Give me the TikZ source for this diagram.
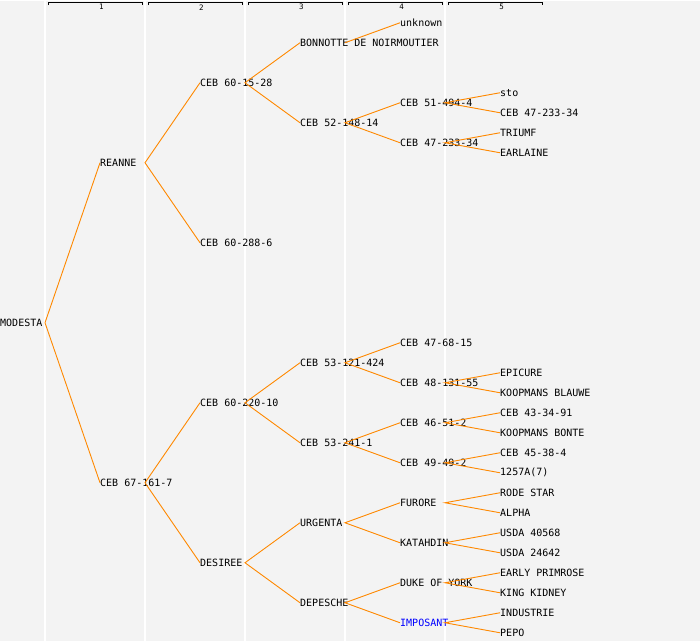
\documentclass[tikz,border=0pt]{standalone}
\usepackage{fontspec}
\setmonofont{DejaVu Sans Mono}
\usepackage{xcolor}
\definecolor{bgcol}{RGB}{243,243,243}
\definecolor{edgecol}{RGB}{255,136,0}
\definecolor{impcol}{RGB}{0,0,255}
\begin{document}
\begin{tikzpicture}[x=1pt,y=-1pt,
	nm/.style={anchor=west,inner sep=0pt,font=\fontsize{10}{10}\selectfont\ttfamily},
	edge/.style={draw=edgecol,line width=0.9pt},
	colline/.style={draw=white,line width=1.5pt},
	gen/.style={draw=black,line width=0.9pt},
	gennum/.style={inner sep=0pt,font=\fontsize{7.5}{7.5}\selectfont\ttfamily}]
	\fill[bgcol] (0,0) rectangle (700,640);
	\coordinate (col0) at (45,0);
	\coordinate (col1) at (145,0);
	\coordinate (col2) at (245,0);
	\coordinate (col3) at (345,0);
	\coordinate (col4) at (445,0);
	\foreach \c in {col0,col1,col2,col3,col4}
		\draw[colline] (\c) -- ++(0,640);
	% generation brackets
	\foreach \i in {1,...,5} {
		\pgfmathsetmacro{\xa}{100*\i-52}
		\pgfmathsetmacro{\xb}{100*\i+42}
		\draw[gen] (\xa,4.5) -- (\xa,1.5) -- (\xb,1.5) -- (\xb,4.5);
		\node[gennum] (g\i) at (100*\i+1.5,6.5) {\i};
	}
	\node[nm] (modesta) at (0,322) {MODESTA};
	\node[nm] (reanne) at (100,162) {REANNE};
	\node[nm] (ceb67) at (100,482) {CEB 67-161-7};
	\node[nm] (ceb6015) at (200,82) {CEB 60-15-28};
	\node[nm] (ceb60288) at (200,242) {CEB 60-288-6};
	\node[nm] (ceb60220) at (200,402) {CEB 60-220-10};
	\node[nm] (desiree) at (200,562) {DESIREE};
	\node[nm] (bonnotte) at (300,42) {BONNOTTE DE NOIRMOUTIER};
	\node[nm] (ceb52148) at (300,122) {CEB 52-148-14};
	\node[nm] (ceb53121) at (300,362) {CEB 53-121-424};
	\node[nm] (ceb53241) at (300,442) {CEB 53-241-1};
	\node[nm] (urgenta) at (300,522) {URGENTA};
	\node[nm] (depesche) at (300,602) {DEPESCHE};
	\node[nm] (unknown) at (400,22) {unknown};
	\node[nm] (ceb51494) at (400,102) {CEB 51-494-4};
	\node[nm] (ceb47233a) at (400,142) {CEB 47-233-34};
	\node[nm] (ceb4768) at (400,342) {CEB 47-68-15};
	\node[nm] (ceb48131) at (400,382) {CEB 48-131-55};
	\node[nm] (ceb4651) at (400,422) {CEB 46-51-2};
	\node[nm] (ceb4949) at (400,462) {CEB 49-49-2};
	\node[nm] (furore) at (400,502) {FURORE};
	\node[nm] (katahdin) at (400,542) {KATAHDIN};
	\node[nm] (duke) at (400,582) {DUKE OF YORK};
	\node[nm,text=impcol] (imposant) at (400,622) {IMPOSANT};
	\node[nm] (sto) at (500,92) {sto};
	\node[nm] (ceb47233b) at (500,112) {CEB 47-233-34};
	\node[nm] (triumf) at (500,132) {TRIUMF};
	\node[nm] (earlaine) at (500,152) {EARLAINE};
	\node[nm] (epicure) at (500,372) {EPICURE};
	\node[nm] (koopblauwe) at (500,392) {KOOPMANS BLAUWE};
	\node[nm] (ceb4334) at (500,412) {CEB 43-34-91};
	\node[nm] (koopbonte) at (500,432) {KOOPMANS BONTE};
	\node[nm] (ceb4538) at (500,452) {CEB 45-38-4};
	\node[nm] (a1257) at (500,472) {1257A(7)};
	\node[nm] (rodestar) at (500,492) {RODE STAR};
	\node[nm] (alpha) at (500,512) {ALPHA};
	\node[nm] (usda40568) at (500,532) {USDA 40568};
	\node[nm] (usda24642) at (500,552) {USDA 24642};
	\node[nm] (earlyprim) at (500,572) {EARLY PRIMROSE};
	\node[nm] (kingkidney) at (500,592) {KING KIDNEY};
	\node[nm] (industrie) at (500,612) {INDUSTRIE};
	\node[nm] (pepo) at (500,632) {PEPO};
	% parent links
	\draw[edge] (reanne.west) -- (modesta.west -| col0) -- (ceb67.west);
	\draw[edge] (ceb6015.west) -- (reanne.west -| col1) -- (ceb60288.west);
	\draw[edge] (ceb60220.west) -- (ceb67.west -| col1) -- (desiree.west);
	\draw[edge] (bonnotte.west) -- (ceb6015.west -| col2) -- (ceb52148.west);
	\draw[edge] (ceb53121.west) -- (ceb60220.west -| col2) -- (ceb53241.west);
	\draw[edge] (urgenta.west) -- (desiree.west -| col2) -- (depesche.west);
	\draw[edge] (bonnotte.west -| col3) -- (unknown.west);
	\draw[edge] (ceb51494.west) -- (ceb52148.west -| col3) -- (ceb47233a.west);
	\draw[edge] (ceb4768.west) -- (ceb53121.west -| col3) -- (ceb48131.west);
	\draw[edge] (ceb4651.west) -- (ceb53241.west -| col3) -- (ceb4949.west);
	\draw[edge] (furore.west) -- (urgenta.west -| col3) -- (katahdin.west);
	\draw[edge] (duke.west) -- (depesche.west -| col3) -- (imposant.west);
	\draw[edge] (sto.west) -- (ceb51494.west -| col4) -- (ceb47233b.west);
	\draw[edge] (triumf.west) -- (ceb47233a.west -| col4) -- (earlaine.west);
	\draw[edge] (epicure.west) -- (ceb48131.west -| col4) -- (koopblauwe.west);
	\draw[edge] (ceb4334.west) -- (ceb4651.west -| col4) -- (koopbonte.west);
	\draw[edge] (ceb4538.west) -- (ceb4949.west -| col4) -- (a1257.west);
	\draw[edge] (rodestar.west) -- (furore.west -| col4) -- (alpha.west);
	\draw[edge] (usda40568.west) -- (katahdin.west -| col4) -- (usda24642.west);
	\draw[edge] (earlyprim.west) -- (duke.west -| col4) -- (kingkidney.west);
	\draw[edge] (industrie.west) -- (imposant.west -| col4) -- (pepo.west);
\end{tikzpicture}
\end{document}
